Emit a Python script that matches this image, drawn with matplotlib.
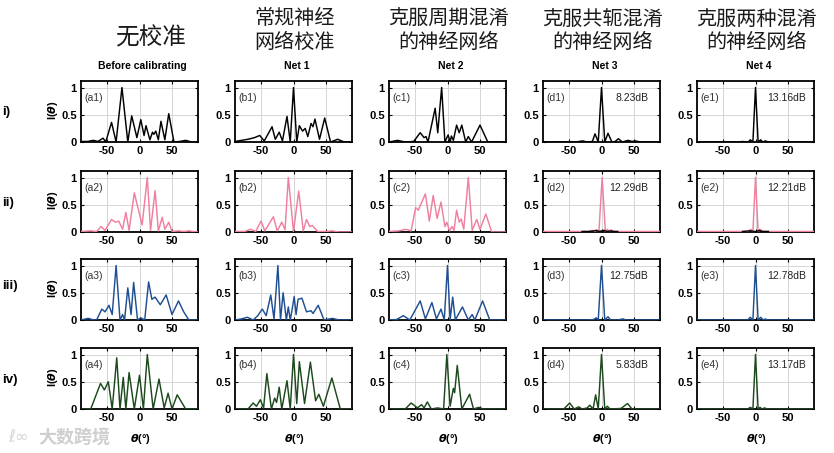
import matplotlib
matplotlib.use("Agg")
import matplotlib.pyplot as plt

plt.rcParams['font.family'] = ['Liberation Sans', 'Noto Sans CJK SC', 'DejaVu Sans']
plt.rcParams['mathtext.fontset'] = 'dejavusans'

# ---------------- data ----------------
col_titles_cn = [["无校准"], ["常规神经", "网络校准"], ["克服周期混淆", "的神经网络"],
                 ["克服共轭混淆", "的神经网络"], ["克服两种混淆", "的神经网络"]]
col_titles_en = ["Before calibrating", "Net 1", "Net 2", "Net 3", "Net 4"]
row_labels = ["i)", "ii)", "iii)", "iv)"]
x_ticks = [-50, 0, 50]
x_tick_labels = ["-50", "0", "50"]
y_ticks = [0, 0.5, 1]
y_tick_labels = ["0", "0.5", "1"]

# column a (before calibrating)
th_a1 = [-90, -80, -71, -64, -56, -52, -43, -36, -27, -18, -12, -4, 2, 7, 10, 16, 20, 22, 25, 29, 33, 39, 45, 53, 62, 71, 80, 90]
I_a1 = [0.01, 0.01, 0.03, 0.01, 0.07, 0.0, 0.36, 0.0, 1.0, 0.0, 0.48, 0.08, 0.41, 0.12, 0.30, 0.04, 0.18, 0.14, 0.20, 0.04, 0.38, 0.04, 0.52, 0.0, 0.01, 0.03, 0.0, 0.0]
th_a2 = [-90, -75, -66, -59, -53, -43, -37, -32, -26, -21, -16, -8, 4, 12, 17, 24, 29, 35, 39, 45, 50, 60, 68, 76, 90]
I_a2 = [0.01, 0.02, 0.01, 0.10, 0.03, 0.23, 0.18, 0.20, 0.05, 0.36, 0.03, 0.72, 0.13, 1.0, 0.03, 0.76, 0.02, 0.27, 0.05, 0.18, 0.01, 0.02, 0.01, 0.02, 0.0]
th_a3 = [-90, -79, -70, -66, -58, -53, -47, -42, -36, -30, -26, -23, -18, -13, -9, -3, 2, 8, 14, 19, 24, 32, 41, 50, 60, 68, 76, 90]
I_a3 = [0.0, 0.03, 0.0, 0.0, 0.20, 0.15, 0.27, 0.10, 1.0, 0.0, 0.10, 0.0, 0.59, 0.10, 0.69, 0.0, 0.04, 0.0, 0.70, 0.38, 0.42, 0.28, 0.46, 0.10, 0.35, 0.15, 0.0, 0.0]
th_a4 = [-90, -75, -60, -54, -48, -42, -35, -30, -25, -21, -16, -8, 0, 6, 12, 21, 30, 38, 44, 50, 58, 71, 90]
I_a4 = [0, 0, 0.47, 0.35, 0.50, 0, 0.94, 0, 0.58, 0, 0.67, 0, 0.62, 0, 1.0, 0, 0.55, 0.02, 0.29, 0, 0.26, 0, 0]

# column b (Net 1)
th_b1 = [-90, -80, -70, -60, -52, -45, -33, -28, -22, -17, -10, -5, 0, 5, 9, 14, 18, 22, 27, 30, 33, 40, 48, 57, 68, 78, 90]
I_b1 = [0.01, 0.03, 0.05, 0.08, 0.12, 0.02, 0.28, 0.05, 0.18, 0.02, 0.47, 0.0, 1.0, 0.0, 0.30, 0.20, 0.25, 0.10, 0.34, 0.28, 0.42, 0.05, 0.44, 0.0, 0.05, 0.0, 0.0]
th_b2 = [-90, -75, -66, -58, -50, -44, -31, -25, -18, -13, -8, 0, 8, 15, 20, 25, 29, 37, 50, 60, 70, 90]
I_b2 = [0.01, 0.01, 0.05, 0.01, 0.20, 0.02, 0.28, 0.02, 0.18, 0.04, 1.0, 0.01, 0.75, 0.02, 0.23, 0.10, 0.12, 0.01, 0.01, 0.02, 0.0, 0.0]
th_b3 = [-90, -80, -71, -62, -55, -48, -42, -35, -30, -24, -20, -16, -11, -8, -5, -2, 1, 4, 7, 13, 20, 27, 30, 38, 47, 60, 70, 90]
I_b3 = [0.0, 0.02, 0.05, 0.0, 0.08, 0.20, 0.08, 0.46, 0.02, 1.0, 0.0, 0.50, 0.0, 0.24, 0.0, 0.20, 0.43, 0.10, 0.38, 0.40, 0.15, 0.17, 0.12, 0.27, 0.0, 0.03, 0.0, 0.0]
th_b4 = [-90, -70, -62, -57, -51, -46, -41, -34, -29, -26, -22, -18, -10, -5, 0, 5, 9, 17, 26, 34, 39, 46, 59, 72, 90]
I_b4 = [0, 0, 0.11, 0.05, 0.17, 0.02, 0.65, 0, 0.20, 0.12, 0.40, 0, 0.52, 0, 1.0, 0.10, 0.87, 0.10, 0.86, 0.15, 0.27, 0.05, 0.57, 0, 0]

# column c (Net 2)
th_c1 = [-90, -77, -65, -52, -42, -36, -33, -30, -19, -15, -9, -4, 1, 4, 6, 9, 14, 18, 22, 28, 32, 37, 50, 62, 90]
I_c1 = [0.0, 0.03, 0.0, 0.01, 0.17, 0.08, 0.10, 0.0, 0.62, 0.17, 1.0, 0.0, 0.13, 0.0, 0.11, 0.03, 0.31, 0.17, 0.31, 0.0, 0.10, 0.0, 0.31, 0.0, 0.0]
th_c2 = [-90, -75, -64, -56, -49, -45, -34, -28, -22, -16, -10, -4, -1, 3, 7, 10, 14, 18, 21, 25, 32, 38, 45, 50, 59, 68, 90]
I_c2 = [0.01, 0.02, 0.05, 0.02, 0.45, 0.40, 0.70, 0.20, 0.67, 0.25, 0.55, 0.10, 0.18, 0.02, 0.10, 0.03, 0.40, 0.18, 0.24, 0.05, 1.0, 0.03, 0.23, 0.05, 0.33, 0.0, 0.0]
th_c3 = [-90, -78, -68, -58, -42, -34, -24, -17, -10, -5, 0, 4, 8, 12, 23, 32, 38, 42, 54, 65, 90]
I_c3 = [0.0, 0.01, 0.08, 0.0, 0.35, 0.02, 0.32, 0.02, 0.20, 0.0, 1.0, 0.0, 0.42, 0.0, 0.24, 0.0, 0.10, 0.0, 0.35, 0.0, 0.0]
th_c4 = [-90, -65, -56, -46, -40, -36, -31, -25, -15, -6, -1, 4, 9, 11, 15, 22, 34, 40, 48, 55, 90]
I_c4 = [0, 0, 0.11, 0.02, 0.08, 0.02, 0.13, 0, 0.02, 0, 1.0, 0.05, 0.38, 0.30, 0.80, 0.0, 0.27, 0, 0.03, 0, 0]

# column d (Net 3)
th_d1 = [-90, -40, -29, -22, -14, -10, -5, 0, 5, 10, 16, 21, 26, 32, 41, 47, 52, 60, 90]
I_d1 = [0, 0, 0.02, 0, 0.01, 0.15, 0, 1.0, 0, 0.16, 0, 0.01, 0.06, 0, 0.03, 0.01, 0.02, 0, 0]
th_d2 = [-90, -20, -13, -10, -7, -4, 1, 6, 9, 12, 15, 18, 22, 90]
I_d2 = [0.01, 0.01, 0.03, 0.01, 0.04, 0, 1.0, 0, 0.05, 0.01, 0.04, 0.01, 0.01, 0.01]
th_d2k = [-30, -20, -12, -8, -4, 0, 4, 8, 14, 20, 25]
I_d2k = [0.01, 0.01, 0.02, 0.03, 0.01, 0.02, 0.03, 0.01, 0.02, 0.01, 0.01]
th_d3 = [-90, -20, -12, -8, -5, 0, 5, 10, 14, 25, 33, 38, 90]
I_d3 = [0, 0, 0.01, 0.04, 0, 1.0, 0, 0.06, 0, 0, 0.02, 0, 0]
th_d4 = [-90, -58, -49, -42, -35, -30, -22, -18, -13, -9, -5, 0, 5, 9, 13, 30, 40, 47, 90]
I_d4 = [0, 0, 0.11, 0, 0.04, 0, 0.02, 0.07, 0, 0.26, 0, 1.0, 0, 0.05, 0, 0.01, 0.10, 0, 0]

# column e (Net 4)
th_e1 = [-90, -25, -20, -15, -11, -8, -4, 0, 4, 8, 11, 15, 20, 90]
I_e1 = [0, 0, 0.01, 0, 0, 0.04, 0, 1.0, 0, 0.04, 0, 0.02, 0, 0]
th_e2 = [-90, -12, -7, -4, 0, 4, 7, 12, 90]
I_e2 = [0.01, 0.01, 0.05, 0, 1.0, 0, 0.05, 0.01, 0.01]
th_e2k = [-20, -10, -6, -2, 2, 6, 10, 20]
I_e2k = [0.01, 0.02, 0.02, 0.01, 0.01, 0.03, 0.01, 0.01]
th_e3 = [-90, -12, -8, -4, 0, 4, 8, 12, 15, 18, 90]
I_e3 = [0, 0, 0.05, 0, 1.0, 0, 0.05, 0, 0.02, 0, 0]
th_e4 = [-90, -12, -8, -4, 0, 4, 7, 10, 14, 18, 90]
I_e4 = [0, 0, 0.03, 0, 1.0, 0, 0.03, 0, 0.02, 0, 0]

db_d = ["8.23dB", "12.29dB", "12.75dB", "5.83dB"]
db_e = ["13.16dB", "12.21dB", "12.78dB", "13.17dB"]

row_colors = ["#000000", "#F0809E", "#1F4F93", "#1C4A1C"]

panels = [
    [(th_a1, I_a1), (th_b1, I_b1), (th_c1, I_c1), (th_d1, I_d1), (th_e1, I_e1)],
    [(th_a2, I_a2), (th_b2, I_b2), (th_c2, I_c2), (th_d2, I_d2), (th_e2, I_e2)],
    [(th_a3, I_a3), (th_b3, I_b3), (th_c3, I_c3), (th_d3, I_d3), (th_e3, I_e3)],
    [(th_a4, I_a4), (th_b4, I_b4), (th_c4, I_c4), (th_d4, I_d4), (th_e4, I_e4)],
]
extra_black = {(1, 3): (th_d2k, I_d2k), (1, 4): (th_e2k, I_e2k)}
letters = "abcde"

# ---------------- layout ----------------
FW, FH = 834, 453
fig = plt.figure(figsize=(FW / 100, FH / 100), dpi=100)

cols_left = [81, 235, 389, 543, 697]
rows_top = [81, 171, 259, 348]
AW, AH = 117, 61


def fx(px):
    return px / FW


def fy(py):
    return 1 - py / FH


for r in range(4):
    for c in range(5):
        L, T = cols_left[c], rows_top[r]
        ax = fig.add_axes([fx(L), fy(T + AH), AW / FW, AH / FH])
        th, val = panels[r][c]
        ax.plot(th, val, color=row_colors[r], lw=1.05, zorder=3,
                solid_joinstyle="round", solid_capstyle="round")
        if (r, c) in extra_black:
            tk, vk = extra_black[(r, c)]
            ax.plot(tk, vk, color="black", lw=1.0, zorder=4)
        ax.set_xlim(-90, 90)
        ax.set_ylim(0, 1.12)
        ax.set_xticks(x_ticks)
        ax.set_xticklabels(x_tick_labels, fontweight="bold", fontsize=8)
        ax.set_yticks(y_ticks)
        ax.set_yticklabels(y_tick_labels, fontweight="bold", fontsize=8)
        ax.grid(True, color="#d6d6d6", lw=0.7, zorder=0)
        ax.tick_params(direction="in", length=2, width=0.8, top=True, right=True, pad=3)
        for s in ax.spines.values():
            s.set_linewidth(1.3)
        ax.text(0.03, 0.72, "(%s%d)" % (letters[c], r + 1), transform=ax.transAxes,
                fontsize=7.5, color="#333333", va="center", ha="left")
        if c == 3:
            ax.text(0.90, 0.72, db_d[r], transform=ax.transAxes, fontsize=7.5,
                    color="#222222", va="center", ha="right")
        if c == 4:
            ax.text(0.93, 0.72, db_e[r], transform=ax.transAxes, fontsize=7.5,
                    color="#222222", va="center", ha="right")

# titles
for c in range(5):
    cx = cols_left[c] + AW / 2 + 1
    lines = col_titles_cn[c]
    if len(lines) == 1:
        fig.text(fx(cx + 10), fy(38), lines[0], fontsize=17, ha="center", va="center",
                 family=["Noto Sans CJK SC"], fontweight="light", color="#1a1a1a")
    else:
        fig.text(fx(cx), fy(19), lines[0], fontsize=14.5, ha="center", va="center",
                 family=["Noto Sans CJK SC"], fontweight="light", color="#1a1a1a")
        fig.text(fx(cx), fy(42), lines[1], fontsize=14.5, ha="center", va="center",
                 family=["Noto Sans CJK SC"], fontweight="light", color="#1a1a1a")
    fig.text(fx(cx + 2), fy(66), col_titles_en[c], fontsize=7.5, fontweight="bold",
             ha="center", va="center")
    fig.text(fx(cx), fy(439), r"$\mathbfit{\theta}$(°)", fontsize=8, fontweight="bold",
             ha="center", va="center")

row_label_y = [112, 203, 286, 380]
for r in range(4):
    fig.text(fx(2), fy(row_label_y[r]), row_labels[r], fontsize=9.5, fontweight="bold",
             ha="left", va="center")
    fig.text(fx(53), fy(rows_top[r] + AH / 2 - 1), r"I($\mathbfit{\theta}$)", fontsize=8,
             fontweight="bold", rotation=90, ha="center", va="center")

# watermark
fig.text(fx(38), fy(437), "大数跨境", fontsize=13, color="#cfcfcf", ha="left", va="center",
         family=["Noto Sans CJK SC"], fontweight="bold")
fig.text(fx(8), fy(437), "ℓ∞", fontsize=12, color="#d5d5d5", ha="left", va="center",
         family=["DejaVu Sans"])

fig.savefig("out.png", dpi=100)
